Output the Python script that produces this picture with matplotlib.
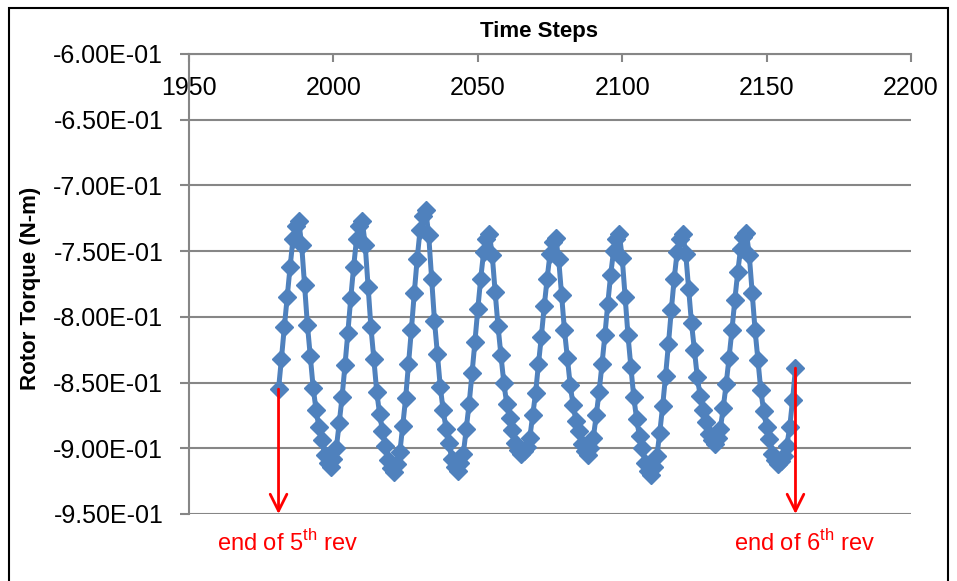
import matplotlib
matplotlib.use('Agg')
import matplotlib.pyplot as plt
from matplotlib.ticker import FuncFormatter
from matplotlib.patches import Rectangle

plt.rcParams['font.family'] = ['Liberation Sans', 'DejaVu Sans']
plt.rcParams['axes.unicode_minus'] = False
plt.rcParams['mathtext.fontset'] = 'custom'
plt.rcParams['mathtext.rm'] = 'Liberation Sans'

# --- data: rotor torque over one revolution (time steps 1981..2160) ---
time_steps = list(range(1981, 2161))
torque = [
    -0.855, -0.832, -0.808, -0.785, -0.762, -0.741, -0.731, -0.727, -0.745, -0.776,
    -0.806, -0.830, -0.854, -0.871, -0.884, -0.894, -0.905, -0.911, -0.914, -0.908,
    -0.900, -0.881, -0.861, -0.837, -0.812, -0.786, -0.762, -0.741, -0.731, -0.727,
    -0.745, -0.777, -0.808, -0.832, -0.857, -0.874, -0.887, -0.898, -0.909, -0.915,
    -0.918, -0.912, -0.903, -0.883, -0.862, -0.836, -0.810, -0.782, -0.756, -0.734,
    -0.723, -0.719, -0.738, -0.771, -0.803, -0.828, -0.853, -0.871, -0.885, -0.896,
    -0.908, -0.914, -0.917, -0.911, -0.904, -0.885, -0.866, -0.843, -0.819, -0.794,
    -0.771, -0.751, -0.741, -0.737, -0.753, -0.781, -0.807, -0.829, -0.850, -0.866,
    -0.877, -0.886, -0.896, -0.901, -0.904, -0.902, -0.899, -0.892, -0.875, -0.858,
    -0.836, -0.815, -0.792, -0.771, -0.752, -0.743, -0.740, -0.756, -0.783, -0.810,
    -0.831, -0.852, -0.867, -0.879, -0.887, -0.897, -0.902, -0.905, -0.900, -0.892,
    -0.875, -0.857, -0.836, -0.814, -0.790, -0.768, -0.750, -0.741, -0.737, -0.755,
    -0.785, -0.814, -0.838, -0.861, -0.878, -0.891, -0.900, -0.911, -0.917, -0.920,
    -0.914, -0.906, -0.888, -0.868, -0.845, -0.821, -0.795, -0.771, -0.751, -0.741,
    -0.737, -0.752, -0.779, -0.805, -0.825, -0.846, -0.860, -0.871, -0.880, -0.889,
    -0.894, -0.897, -0.892, -0.885, -0.869, -0.851, -0.831, -0.810, -0.787, -0.766,
    -0.748, -0.739, -0.736, -0.753, -0.782, -0.810, -0.833, -0.856, -0.872, -0.884,
    -0.893, -0.904, -0.909, -0.912, -0.910, -0.906, -0.898, -0.884, -0.863, -0.839,
]
x_ticks = [1950, 2000, 2050, 2100, 2150, 2200]
y_ticks = [-0.95, -0.90, -0.85, -0.80, -0.75, -0.70, -0.65, -0.60]

# revolution markers
rev_steps = [time_steps[0], time_steps[-1]]
rev_labels = ['end of 5$^{\\rm th}$ rev', 'end of 6$^{\\rm th}$ rev']

grid_col = '#868686'
line_col = '#4F81BD'

fig = plt.figure(figsize=(9.57, 5.81), dpi=100)
ax = fig.add_axes([189 / 957, 1 - 514 / 581, (911 - 189) / 957, (514 - 54) / 581])

ax.plot(time_steps, torque, color=line_col, lw=3.6, marker='D', ms=9.5,
        mfc=line_col, mec=line_col, zorder=3, clip_on=False)

ax.set_xlim(1950, 2200)
ax.set_ylim(-0.95, -0.60)
ax.set_xticks(x_ticks)
ax.set_yticks(y_ticks)
ax.yaxis.set_major_formatter(FuncFormatter(lambda v, p: f'{v:.2E}'))

ax.grid(axis='y', color=grid_col, lw=1.5, zorder=0)
ax.set_axisbelow(True)
for side in ['right', 'bottom']:
    ax.spines[side].set_visible(False)
for side in ['top', 'left']:
    ax.spines[side].set_color(grid_col)
    ax.spines[side].set_linewidth(1.5)

# x axis sits on the top edge, labels hang below it
ax.tick_params(axis='x', top=True, bottom=False, labeltop=True, labelbottom=False,
               direction='in', length=6, width=1.5, color=grid_col, pad=-33, labelsize=18)
ax.tick_params(axis='y', direction='out', length=6.5, width=1.5, color=grid_col,
               pad=12, labelsize=18)

fig.text(539 / 957, 1 - 32 / 581, 'Time Steps', fontsize=16, fontweight='bold',
         ha='center', va='center')
fig.text(31 / 957, 1 - 288 / 581, 'Rotor Torque (N-m)', fontsize=16, fontweight='bold',
         rotation=90, ha='center', va='center')

# arrows marking the revolution boundaries
for step, lab in zip(rev_steps, rev_labels):
    y0 = torque[time_steps.index(step)]
    ax.annotate('', xy=(step, -0.95), xytext=(step, y0),
                arrowprops=dict(arrowstyle='->', color='red', lw=2,
                                mutation_scale=30, shrinkA=0, shrinkB=0),
                annotation_clip=False)
    ax.text(step + 3.3, -0.972, lab, color='red', fontsize=17,
            ha='center', va='center', clip_on=False)

fig.patches.append(Rectangle((9 / 957, -0.02), (948 - 9) / 957, 1 - 8 / 581 + 0.02,
                             transform=fig.transFigure, fill=False,
                             ec='black', lw=1.5))

fig.savefig('out.png', dpi=100)
